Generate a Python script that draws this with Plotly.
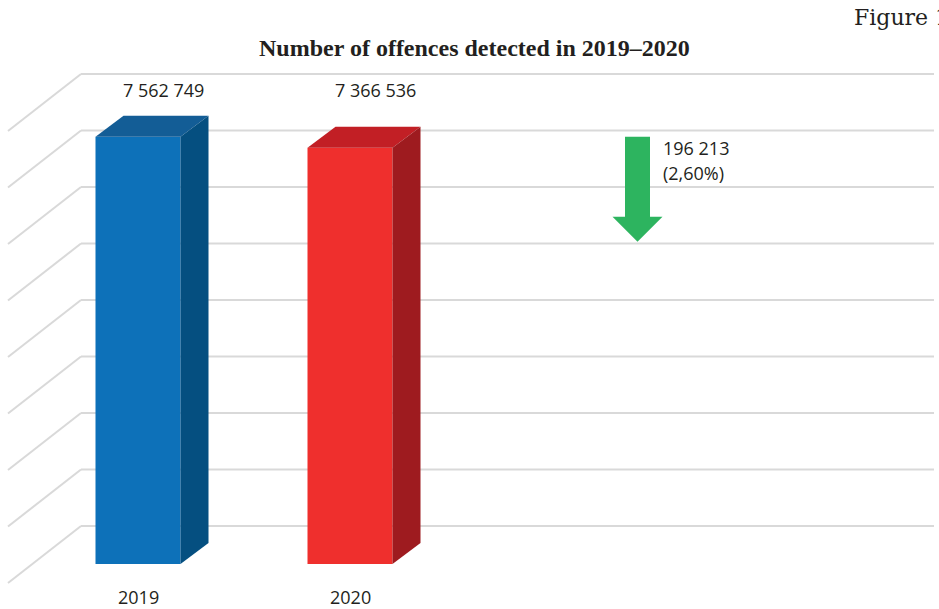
import plotly.graph_objects as go

# ---- data ----
YEARS = ["2019", "2020"]
OFFENCES = [7562749, 7366536]
GRID_LEVELS = [0, 1_000_000, 2_000_000, 3_000_000, 4_000_000,
               5_000_000, 6_000_000, 7_000_000, 8_000_000]
CHANGE_PCT_LABEL = "2,60%"

# ---- geometry (pixels of the 939x609 canvas) ----
W, H = 939, 609
PX_PER_CAT = 212          # distance between bar centres
CAT0_PX = 138             # front-face centre of the first bar
BASE_PX = 564             # front-face baseline of the bars
PX_PER_UNIT = 56.5 / 1_000_000

BAR_W_PX = 85
BAR_DEPTH_PX = (28, 21)   # (right, up) offset of the bar's back face
WALL_LEFT_PX = (8, 81)    # left wall: front x, back x
WALL_RIGHT_PX = 934
WALL_FRONT_DY = -19       # floor front edge relative to bar front
WALL_BACK_DY = 38         # back wall relative to bar front

FRONT = ["#0D71B9", "#EF2F2D"]
TOP = ["#135D96", "#C21F25"]
SIDE = ["#054F80", "#9E1B1F"]
GRID = "#D9D9D9"
GREEN = "#2DB45F"
TEXT = "#231F20"


def xd(px):
    return px / PX_PER_CAT


def yd(px):
    return px / PX_PER_UNIT


def px2x(px):
    return (px - CAT0_PX) / PX_PER_CAT


def fmt(n):
    return f"{n:,}".replace(",", " ")


fig = go.Figure()

# back wall and left wall grid lines
shapes = []
for v in GRID_LEVELS:
    yb = v + yd(WALL_BACK_DY)
    yf = v + yd(WALL_FRONT_DY)
    shapes.append(dict(type="line", xref="x", yref="y", layer="below",
                       x0=px2x(WALL_LEFT_PX[1]), x1=px2x(WALL_RIGHT_PX),
                       y0=yb, y1=yb, line=dict(color=GRID, width=2)))
    shapes.append(dict(type="line", xref="x", yref="y", layer="below",
                       x0=px2x(WALL_LEFT_PX[0]), x1=px2x(WALL_LEFT_PX[1]),
                       y0=yf, y1=yb, line=dict(color=GRID, width=2)))

# bar front faces
bw = xd(BAR_W_PX)
fig.add_trace(go.Bar(x=list(range(len(YEARS))), y=OFFENCES, width=bw,
                     marker=dict(color=FRONT, line=dict(width=0)),
                     hoverinfo="skip", showlegend=False))

# bar top and side faces
ddx, ddy = xd(BAR_DEPTH_PX[0]), yd(BAR_DEPTH_PX[1])
for i, v in enumerate(OFFENCES):
    xl, xr = i - bw / 2, i + bw / 2
    fig.add_trace(go.Scatter(
        x=[xl, xl + ddx, xr + ddx, xr, xl],
        y=[v, v + ddy, v + ddy, v, v],
        fill="toself", fillcolor=TOP[i], mode="lines",
        line=dict(width=0, color=TOP[i]), hoverinfo="skip", showlegend=False))
    fig.add_trace(go.Scatter(
        x=[xr, xr + ddx, xr + ddx, xr, xr],
        y=[v, v + ddy, ddy, 0, v],
        fill="toself", fillcolor=SIDE[i], mode="lines",
        line=dict(width=0, color=SIDE[i]), hoverinfo="skip", showlegend=False))

# decrease arrow
ax = px2x(637.5)
top = OFFENCES[0]
shaft_end = top - yd(80)
tip = shaft_end - yd(25)
sw, hw = xd(12.5), xd(25)
fig.add_trace(go.Scatter(
    x=[ax - sw, ax + sw, ax + sw, ax + hw, ax, ax - hw, ax - sw, ax - sw],
    y=[top, top, shaft_end, shaft_end, tip, shaft_end, shaft_end, top],
    fill="toself", fillcolor=GREEN, mode="lines",
    line=dict(width=0, color=GREEN), hoverinfo="skip", showlegend=False))

annotations = []
label_y = yd(BASE_PX - 90)
for i, v in enumerate(OFFENCES):
    annotations.append(dict(x=i + xd(25), y=label_y, xref="x", yref="y",
                            text=fmt(v), showarrow=False,
                            xanchor="center", yanchor="middle",
                            font=dict(family="Open Sans", size=18, color=TEXT)))
    annotations.append(dict(x=i, y=-yd(33), xref="x", yref="y",
                            text=YEARS[i], showarrow=False, borderpad=0,
                            xanchor="center", yanchor="middle",
                            font=dict(family="Open Sans", size=18, color=TEXT)))

diff = OFFENCES[0] - OFFENCES[1]
annotations.append(dict(x=px2x(661), y=yd(BASE_PX - 148), xref="x", yref="y",
                        text=fmt(diff), showarrow=False,
                        xanchor="left", yanchor="middle",
                        font=dict(family="Open Sans", size=18, color=TEXT)))
annotations.append(dict(x=px2x(661), y=yd(BASE_PX - 173), xref="x", yref="y",
                        text=f"({CHANGE_PCT_LABEL})", showarrow=False,
                        xanchor="left", yanchor="middle",
                        font=dict(family="Open Sans", size=18, color=TEXT)))

# title and figure caption
annotations.append(dict(x=475 / W, y=1 - 48 / H, xref="paper", yref="paper",
                        text="<b>Number of offences detected in 2019–2020</b>",
                        showarrow=False, xanchor="center", yanchor="middle",
                        font=dict(family="Liberation Serif", size=24, color=TEXT)))
annotations.append(dict(x=852 / W, y=1 - 18 / H, xref="paper", yref="paper",
                        text="Figure 1", showarrow=False,
                        xanchor="left", yanchor="middle",
                        font=dict(family="DejaVu Serif", size=22, color=TEXT)))

fig.update_layout(
    width=W, height=H,
    margin=dict(l=0, r=0, t=0, b=0),
    paper_bgcolor="white", plot_bgcolor="white",
    xaxis=dict(range=[px2x(0), px2x(W)], visible=False, fixedrange=True),
    yaxis=dict(range=[-yd(H - BASE_PX), yd(BASE_PX)], visible=False,
               fixedrange=True),
    shapes=shapes,
    annotations=annotations,
    showlegend=False,
)

fig.write_html("out.html")
